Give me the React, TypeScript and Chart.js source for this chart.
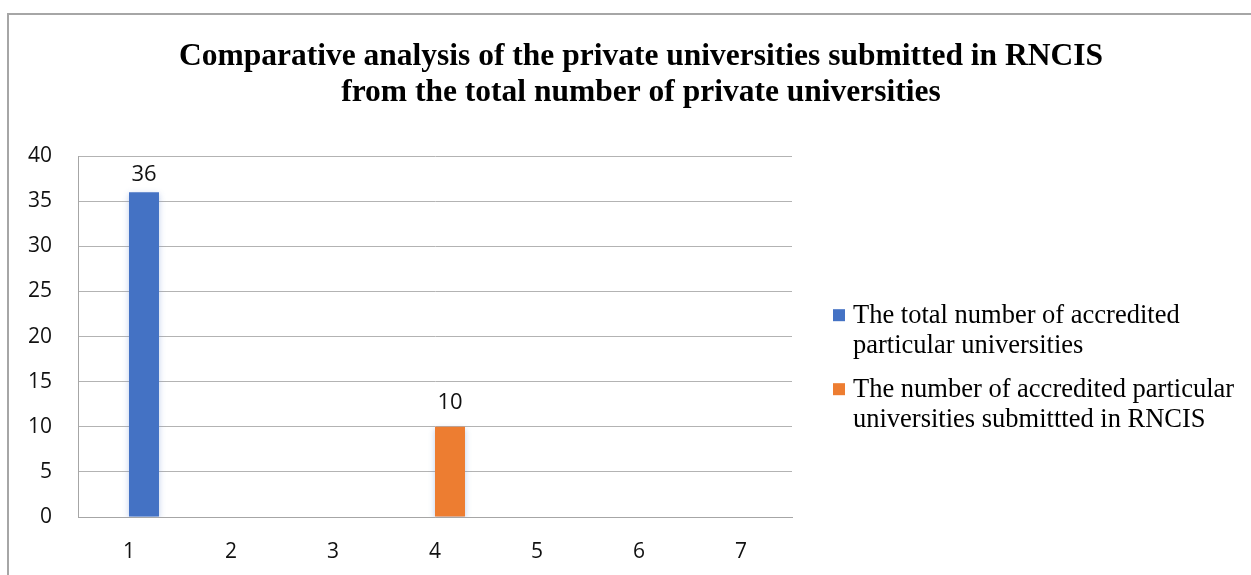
import React, { useEffect, useRef } from "react";
import { Chart, registerables } from "chart.js";

Chart.register(...registerables);

// ---- data ----
const categories = ["1", "2", "3", "4", "5", "6", "7"];
const totalAccredited = [36, null, null, null, null, null, null];
const submittedRNCIS = [null, null, null, 10, null, null, null];
// Excel reserved an empty leading slot in each cluster
const emptySeries = [null, null, null, null, null, null, null];

const seriesNames = [
  "The total number of accredited particular universities",
  "The number of accredited particular universities submittted in RNCIS",
];
const legendLines = [
  ["The total number of accredited", "particular universities"],
  ["The number of accredited particular", "universities submittted in RNCIS"],
];
const titleLines = [
  "Comparative analysis of the private universities submitted in RNCIS",
  "from the total number of private universities",
];
const yMin = 0;
const yMax = 40;
const yStep = 5;

const BLUE = "#4472C4";
const ORANGE = "#ED7D31";
const SANS = '"Open Sans", "Liberation Sans", sans-serif';
const SERIF = '"Liberation Serif", "Times New Roman", serif';

const CANVAS_W = 1264;
const CANVAS_H = 600;

const shadowAndLabels = {
  id: "shadowAndLabels",
  beforeDatasetsDraw(chart: any) {
    const ctx = chart.ctx;
    ctx.save();
    ctx.shadowColor = "rgba(110,145,210,0.45)";
    ctx.shadowBlur = 6;
    ctx.shadowOffsetY = 2;
  },
  afterDatasetsDraw(chart: any) {
    const ctx = chart.ctx;
    ctx.restore();
    ctx.save();
    ctx.font = `22px ${SANS}`;
    ctx.fillStyle = "#111";
    ctx.textAlign = "center";
    ctx.textBaseline = "alphabetic";
    const capH = 16;
    chart.data.datasets.forEach((ds: any, di: number) => {
      if (ds.isSpacer) return;
      const meta = chart.getDatasetMeta(di);
      meta.data.forEach((el: any, i: number) => {
        const v = ds.data[i];
        if (v === null || v === undefined) return;
        let base = el.y - 18;
        if (base - capH < chart.chartArea.top + 9) base = chart.chartArea.top + 9 + capH;
        ctx.fillText(String(v), el.x, base);
      });
    });
    ctx.restore();
  },
};

const sideLegend = {
  id: "sideLegend",
  afterDraw(chart: any) {
    const ctx = chart.ctx;
    const area = chart.chartArea;
    ctx.save();
    ctx.font = `26.5px ${SERIF}`;
    ctx.fillStyle = "#000";
    ctx.textAlign = "left";
    ctx.textBaseline = "alphabetic";
    const boxX = area.right + 41;
    const textX = boxX + 20;
    const lineH = 30;
    const itemStride = 74;
    let base = area.top + 167;
    const real = chart.data.datasets.filter((d: any) => !d.isSpacer);
    real.forEach((ds: any, k: number) => {
      ctx.fillStyle = ds.backgroundColor;
      ctx.fillRect(boxX, base - 14, 12, 12);
      ctx.fillStyle = "#000";
      legendLines[k].forEach((line, j) => {
        ctx.fillText(line, textX, base + j * lineH);
      });
      base += itemStride;
    });
    ctx.restore();
  },
};

export default function App() {
  const ref = useRef<HTMLCanvasElement | null>(null);

  useEffect(() => {
    if (!ref.current) return;
    const chart = new Chart(ref.current, {
      type: "bar",
      data: {
        labels: categories,
        datasets: [
          {
            label: "",
            data: emptySeries,
            stack: "spacer",
            backgroundColor: "rgba(0,0,0,0)",
            isSpacer: true,
          } as any,
          {
            label: seriesNames[0],
            data: totalAccredited,
            stack: "main",
            backgroundColor: BLUE,
          },
          {
            label: seriesNames[1],
            data: submittedRNCIS,
            stack: "main",
            backgroundColor: ORANGE,
          },
        ],
      },
      options: {
        responsive: false,
        devicePixelRatio: 1,
        animation: false,
        layout: { padding: 0 },
        datasets: {
          bar: { barPercentage: 1, categoryPercentage: 0.588 },
        },
        plugins: {
          legend: { display: false },
          tooltip: { enabled: false },
          title: {
            display: true,
            text: titleLines,
            color: "#000",
            font: { family: SERIF, size: 31.5, weight: "bold", lineHeight: 1.13 },
            padding: { top: 24, bottom: 46 },
          },
        },
        scales: {
          x: {
            stacked: true,
            grid: { display: false, drawTicks: false },
            border: { display: true, color: "#a6a6a6", width: 1 },
            ticks: {
              color: "#111",
              font: { family: SANS, size: 21 },
              padding: 22,
            },
            afterFit: (scale: any) => {
              scale.height = 98;
            },
          },
          y: {
            min: yMin,
            max: yMax,
            grid: { color: "#b3b3b3", drawTicks: false, lineWidth: 1 },
            border: { display: true, color: "#a6a6a6", width: 1 },
            ticks: {
              stepSize: yStep,
              color: "#111",
              font: { family: SANS, size: 21 },
              padding: 26,
            },
            afterFit: (scale: any) => {
              scale.width = 69;
            },
          },
          legendSpace: {
            type: "linear",
            position: "right",
            display: true,
            grid: { display: false, drawTicks: false },
            border: { display: false },
            ticks: { display: false },
            afterFit: (scale: any) => {
              scale.width = 481;
            },
          } as any,
        },
      },
      plugins: [shadowAndLabels, sideLegend],
    });
    return () => chart.destroy();
  }, []);

  return (
    <div style={{ position: "fixed", inset: 0, overflow: "hidden", background: "#fff" }}>
      <div
        style={{
          position: "absolute",
          left: 7,
          top: 13,
          width: CANVAS_W,
          height: CANVAS_H,
          border: "2px solid #a6a6a6",
        }}
      >
        <canvas ref={ref} width={CANVAS_W} height={CANVAS_H} style={{ display: "block" }} />
      </div>
    </div>
  );
}
